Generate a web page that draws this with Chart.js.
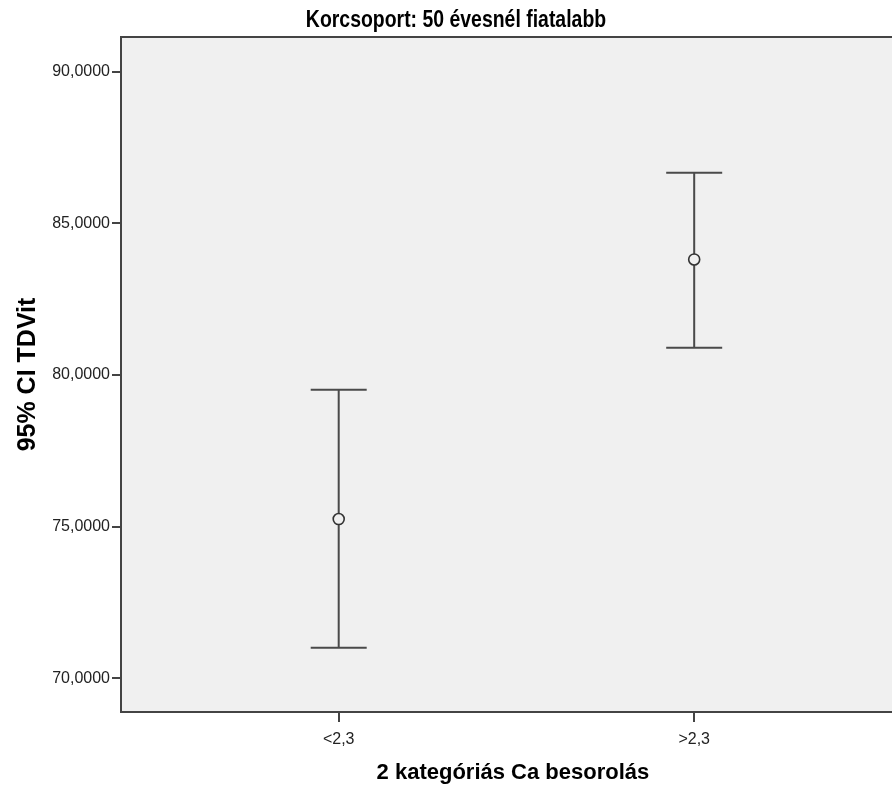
<!DOCTYPE html>
<html>
<head>
<meta charset="utf-8">
<script src="https://cdn.jsdelivr.net/npm/chart.js@4.4.1/dist/chart.umd.min.js"></script>
<style>
    html, body { margin: 0; padding: 0; background: #fff; overflow: hidden; }
    #wrap { width: 892px; height: 787px; overflow: hidden; }
</style>
</head>
<body>
<div id="wrap"><canvas id="ciChart" width="912" height="787"></canvas></div>
<script>
// data
const chartTitle = 'Korcsoport: 50 évesnél fiatalabb';
const categories = ['<2,3', '>2,3'];
const means = [75.25, 83.81];
const lowerBounds = [71.01, 80.90];
const upperBounds = [79.51, 86.67];
const yTicks = [70, 75, 80, 85, 90];

const plotBg = '#f0f0f0';
const frameColor = '#444';

const plotAreaPlugin = {
    id: 'plotArea',
    beforeDraw(chart) {
        const { ctx, chartArea } = chart;
        ctx.save();
        ctx.fillStyle = plotBg;
        ctx.fillRect(chartArea.left, chartArea.top, chartArea.right - chartArea.left, chartArea.bottom - chartArea.top);
        ctx.restore();
    },
    afterDraw(chart) {
        const { ctx, chartArea } = chart;
        ctx.save();
        ctx.strokeStyle = frameColor;
        ctx.lineWidth = 2;
        ctx.beginPath();
        ctx.moveTo(chartArea.left, chartArea.top);
        ctx.lineTo(chartArea.right, chartArea.top);
        ctx.lineTo(chartArea.right, chartArea.bottom);
        ctx.stroke();
        ctx.restore();
    }
};

// SPSS uses a condensed bold face for the title; squeeze the regular one
const titlePlugin = {
    id: 'narrowTitle',
    afterDraw(chart) {
        const { ctx, width } = chart;
        ctx.save();
        ctx.font = 'bold 23px "Liberation Sans", Arial';
        ctx.fillStyle = '#000';
        ctx.textAlign = 'center';
        ctx.textBaseline = 'alphabetic';
        ctx.translate(width / 2, 27);
        ctx.scale(0.845, 1);
        ctx.fillText(chartTitle, 0, 0);
        ctx.restore();
    }
};

const errorBarPlugin = {
    id: 'errorBars',
    beforeDatasetsDraw(chart) {
        const { ctx, scales: { x, y } } = chart;
        const capHalf = 28;
        ctx.save();
        ctx.strokeStyle = '#4a4a4a';
        ctx.lineWidth = 2;
        categories.forEach((cat, i) => {
            const px = x.getPixelForValue(i + 1);
            const top = y.getPixelForValue(upperBounds[i]);
            const bottom = y.getPixelForValue(lowerBounds[i]);
            ctx.beginPath();
            ctx.moveTo(px, top);
            ctx.lineTo(px, bottom);
            ctx.moveTo(px - capHalf, top);
            ctx.lineTo(px + capHalf, top);
            ctx.moveTo(px - capHalf, bottom);
            ctx.lineTo(px + capHalf, bottom);
            ctx.stroke();
        });
        ctx.restore();
    }
};

new Chart(document.getElementById('ciChart'), {
    type: 'scatter',
    data: {
        datasets: [{
            data: means.map((m, i) => ({ x: i + 1, y: m })),
            pointRadius: 5.5,
            pointBorderWidth: 1.6,
            pointBorderColor: '#333',
            pointBackgroundColor: plotBg
        }]
    },
    options: {
        responsive: false,
        animation: false,
        layout: { padding: { top: 37, right: 0, bottom: 0, left: 0 } },
        plugins: {
            legend: { display: false },
            tooltip: { enabled: false },
            title: { display: false }
        },
        scales: {
            x: {
                type: 'linear',
                min: 0.3876,
                max: 2.5927,
                afterBuildTicks: s => { s.ticks = categories.map((c, i) => ({ value: i + 1 })); },
                afterFit: s => { s.height = 75; },
                grid: { drawOnChartArea: false, tickLength: 10, color: frameColor, lineWidth: 2 },
                border: { color: frameColor, width: 2 },
                ticks: {
                    callback: (v, idx) => categories[idx],
                    color: '#222',
                    padding: 8,
                    maxRotation: 0,
                    autoSkip: false,
                    font: { family: '"Liberation Sans", Arial', size: 16 }
                },
                title: {
                    display: true,
                    text: '2 kategóriás Ca besorolás',
                    color: '#000',
                    font: { family: '"Liberation Sans", Arial', size: 22, weight: 'bold' },
                    padding: { top: 0, bottom: 1 }
                }
            },
            y: {
                min: 68.889,
                max: 91.144,
                afterBuildTicks: s => { s.ticks = yTicks.map(v => ({ value: v })); },
                afterFit: s => { s.width = 121; },
                grid: { drawOnChartArea: false, tickLength: 9, color: frameColor, lineWidth: 2 },
                border: { color: frameColor, width: 2 },
                ticks: {
                    callback: v => v.toFixed(4).replace('.', ','),
                    color: '#222',
                    padding: 2,
                    font: { family: '"Liberation Sans", Arial', size: 16 }
                },
                title: {
                    display: true,
                    text: '95% CI TDVit',
                    color: '#000',
                    font: { family: '"Liberation Sans", Arial', size: 25, weight: 'bold' },
                    padding: { top: 13, bottom: 0 }
                }
            }
        }
    },
    plugins: [plotAreaPlugin, errorBarPlugin, titlePlugin]
});
</script>
</body>
</html>
